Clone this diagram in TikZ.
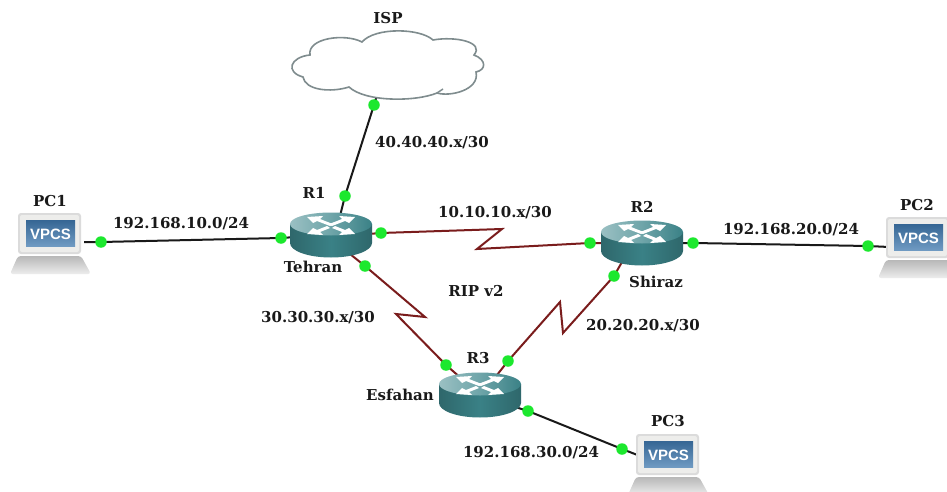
\documentclass[tikz,border=0pt]{standalone}
\usepackage{fontspec}
\setmainfont{DejaVu Serif}
\newfontfamily\vpcsfont{Liberation Sans}
\usetikzlibrary{backgrounds}
\definecolor{serial}{HTML}{7A1C1C}
\definecolor{rtop}{HTML}{6FA5A9}
\definecolor{rside}{HTML}{3A8186}
\definecolor{cloudline}{HTML}{7F8C8E}
\definecolor{scr}{HTML}{3F78AE}
\definecolor{bez}{HTML}{EDEDEB}
\definecolor{portc}{HTML}{1CE82E}
\tikzset{
  lbl/.style={font=\bfseries\fontsize{15pt}{16pt}\selectfont,inner sep=0pt,text=black!90},
  port/.style={circle,fill=portc,draw=none,minimum size=11.5pt,inner sep=0pt},
  eth/.style={draw=black!90,line width=2pt},
  ser/.style={draw=serial,line width=2pt},
  pics/router/.style={code={
    \path[left color=rside!80!black,right color=rside!80!black,middle color=rside]
      (-41,-11) -- (-41,8) arc[start angle=180,end angle=0,x radius=41,y radius=14.5] -- (41,-11) -- cycle;
    \path[left color=rtop!70!white,right color=rside,middle color=rtop] (0,-11) ellipse[x radius=41,y radius=11.5];
    \fill[white] (-24,-18) -- (-8,-19) -- (-11,-16) -- (3,-10.5) -- (-1,-9) -- (-14,-14) -- (-18,-12) -- cycle;
    \fill[white] (24,-18) -- (8,-19) -- (11,-16) -- (-3,-10.5) -- (1,-9) -- (14,-14) -- (18,-12) -- cycle;
    \fill[white] (-24,-1) -- (-8,0) -- (-11,-3) -- (-1,-7) -- (-4,-9) -- (-14,-5) -- (-18,-7) -- cycle;
    \fill[white] (24,-1) -- (8,0) -- (11,-3) -- (1,-7) -- (4,-9) -- (14,-5) -- (18,-7) -- cycle;
  }},
  pics/vpcs/.style={code={
    \fill[black!14,rounded corners=3pt] (18,213) rectangle (81,254);
    \fill[bez,rounded corners=2pt] (20,215) rectangle (79,252);
    \path[top color=scr!85!black,bottom color=scr!75!white] (26,220) rectangle (75,246);
    \node[font=\vpcsfont\bfseries\fontsize{15pt}{16pt}\selectfont,text=white,inner sep=0pt] at (50.5,234) {VPCS};
    \path[top color=black!28,bottom color=black!7,rounded corners=3pt] (18,256) -- (81,256) -- (91,274) -- (10,274) -- cycle;
  }}
}
\begin{document}
\begin{tikzpicture}[x=1pt,y=-1pt]
\useasboundingbox (0,0) rectangle (947,492);
\begin{scope}[on background layer]
\fill[white] (0,0) rectangle (947,492);
\end{scope}
% ports
\node[port] (pA) at (101,242) {};
\node[port] (pB) at (281,238) {};
\node[port] (pC) at (345,196) {};
\node[port] (pD) at (374,105) {};
\node[port] (pE) at (381,233) {};
\node[port] (pF) at (590,243) {};
\node[port] (pG) at (693,243) {};
\node[port] (pH) at (868,246) {};
\node[port] (pI) at (365,266) {};
\node[port] (pJ) at (446,365) {};
\node[port] (pK) at (614,276) {};
\node[port] (pL) at (508,361) {};
\node[port] (pM) at (528,411) {};
\node[port] (pN) at (622,449) {};
% device edges and zigzags
\coordinate (eA) at (84,242);
\coordinate (eB) at (296,237);
\coordinate (eC) at (340,216);
\coordinate (eD) at (378,92);
\coordinate (eE) at (368,234);
\coordinate (eF) at (606,243);
\coordinate (eG) at (680,243);
\coordinate (eH) at (889,247);
\coordinate (eI) at (350,254);
\coordinate (eJ) at (462,379);
\coordinate (eK) at (622,262);
\coordinate (eL) at (497,375);
\coordinate (eM) at (512,406);
\coordinate (eN) at (640,456);
\coordinate (z1) at (502,229);
\coordinate (z2) at (477,249);
\coordinate (z3) at (425,317);
\coordinate (z4) at (396,314);
\coordinate (z5) at (563,333);
\coordinate (z6) at (560,302);
% links
\begin{scope}[on background layer]
\draw[eth] (eA) -- (pA.center) -- (pB.center) -- (eB);
\draw[eth] (eC) -- (pC.center) -- (pD.center) -- (eD);
\draw[eth] (eG) -- (pG.center) -- (pH.center) -- (eH);
\draw[eth] (eM) -- (pM.center) -- (pN.center) -- (eN);
\draw[ser] (eE) -- (pE.center) -- (z1) -- (z2) -- (pF.center) -- (eF);
\draw[ser] (eI) -- (pI.center) -- (z3) -- (z4) -- (pJ.center) -- (eJ);
\draw[ser] (eK) -- (pK.center) -- (z5) -- (z6) -- (pL.center) -- (eL);
\end{scope}
% cloud
\begin{scope}[on background layer]
\draw[cloudline,line width=1.6pt,fill=white]
  (310,55) .. controls (307,38) and (345,33) .. (362,42)
  .. controls (375,27) and (420,28) .. (433,40)
  .. controls (455,36) and (485,42) .. (474,55)
  .. controls (487,60) and (486,70) .. (476,72)
  .. controls (480,90) and (450,97) .. (437,93)
  .. controls (415,102) and (365,102) .. (349,87)
  .. controls (330,93) and (305,90) .. (303,77)
  .. controls (285,72) and (290,57) .. (310,55) -- cycle;
\draw[cloudline,line width=1.4pt] (437,93) -- (443,89);
\end{scope}
% devices
\pic at (331,235) {router};
\pic at (642,243) {router};
\pic at (480,395) {router};
\pic at (0,0) {vpcs};
\pic at (868,4) {vpcs};
\pic at (618,221) {vpcs};
% labels
\node[lbl] (tISP) at (388,18) {ISP};
\node[lbl] (t1) at (432,143) {40.40.40.x/30};
\node[lbl] (t2) at (314,193) {R1};
\node[lbl] (t3) at (313,267) {Tehran};
\node[lbl] (t4) at (50,201) {PC1};
\node[lbl] (t5) at (181,224) {192.168.10.0/24};
\node[lbl] (t6) at (495,213) {10.10.10.x/30};
\node[lbl] (t7) at (642,207) {R2};
\node[lbl] (t8) at (656,282) {Shiraz};
\node[lbl] (t9) at (917,205) {PC2};
\node[lbl] (t10) at (791,230) {192.168.20.0/24};
\node[lbl] (t11) at (476,291) {RIP v2};
\node[lbl] (t12) at (318,318) {30.30.30.x/30};
\node[lbl] (t13) at (643,326) {20.20.20.x/30};
\node[lbl] (t14) at (478,358) {R3};
\node[lbl] (t15) at (400,395) {Esfahan};
\node[lbl] (t16) at (531,453) {192.168.30.0/24};
\node[lbl] (t17) at (668,421) {PC3};
\end{tikzpicture}
\end{document}
